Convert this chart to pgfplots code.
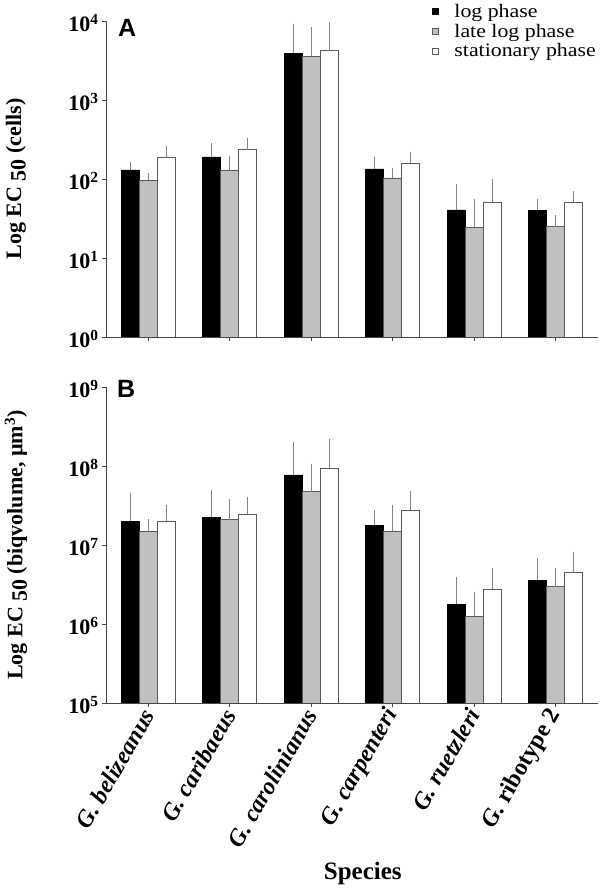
\documentclass[border=0pt]{standalone}
\usepackage{fontspec}
\setmainfont{Liberation Serif}
\newfontfamily\legfont[FakeStretch=1.15]{Liberation Serif}
\newfontfamily\arialb{Liberation Sans}
\usepackage{pgfplots}
\pgfplotsset{compat=1.18}
\definecolor{barg}{RGB}{192,192,192}
\definecolor{barb}{RGB}{90,90,90}
\definecolor{errg}{RGB}{130,130,130}
\definecolor{axg}{RGB}{70,70,70}
\tikzset{
  sblack/.style={fill=black, draw=black, line width=0.8pt},
  sgray/.style={fill=barg, draw=barb, line width=0.8pt},
  swhite/.style={fill=white, draw=barb, line width=0.8pt},
}
\begin{document}
\begin{tikzpicture}[x=1pt,y=1pt]
\path[use as bounding box] (0,0) rectangle (600,890);
% ---------- Panel A ----------
\begin{semilogyaxis}[at={(106pt,553pt)}, anchor=south west,
  scale only axis, width=492pt, height=316pt,
  ybar=0pt, bar width=18pt, log origin=infty,
  xmin=-0.52, xmax=5.52, xtick={0,1,2,3,4,5},
  axis lines=left, axis line style={-, axg, line width=0.9pt},
  tick align=outside, major tick length=4pt,
  tick style={axg, line width=0.9pt},
  yminorticks=false,
  ticklabel style={font=\fontsize{22}{22}\selectfont\bfseries},
  yticklabel style={yshift=-2pt},
  ylabel style={at={(axis description cs:-0.183,0.5)}, anchor=center,
    font=\fontsize{22}{22}\selectfont\bfseries},
  ymin=1, ymax=10000,
  ytick={1,10,100,1000,10000},
  yticklabels={10\textsuperscript{0},10\textsuperscript{1},10\textsuperscript{2},10\textsuperscript{3},10\textsuperscript{4}},
  xticklabels={},
  ylabel={Log EC \raisebox{-0.2em}{50} (cells)},
  legend style={at={(axis description cs:1.0,1.06)}, anchor=north east,
    draw=none, fill=none, font=\legfont\fontsize{19}{19}\selectfont,
    row sep=1pt, inner sep=0pt, cells={anchor=west}},
  legend image code/.code={\draw[#1, line width=0.8pt] (0pt,-3pt) rectangle (6pt,3pt); \path (0pt,0pt) (20pt,0pt);},
]
\addplot[sblack, error bars/.cd, y dir=plus, y explicit, error bar style={errg, line width=0.8pt}, error mark options={errg, line width=0.8pt, mark size=2pt}]
  coordinates {(0,130) +- (0,25) (1,190) +- (0,80) (2,3900) +- (0,4800) (3,134) +- (0,45) (4,40.5) +- (0,40.5) (5,40) +- (0,13)};
\addplot[sgray, error bars/.cd, y dir=plus, y explicit, error bar style={errg, line width=0.8pt}, error mark options={errg, line width=0.8pt, mark size=2pt}]
  coordinates {(0,97) +- (0,15) (1,130) +- (0,55) (2,3600) +- (0,4300) (3,103) +- (0,27) (4,24.6) +- (0,28.4) (5,25) +- (0,8)};
\addplot[swhite, error bars/.cd, y dir=plus, y explicit, error bar style={errg, line width=0.8pt}, error mark options={errg, line width=0.8pt, mark size=2pt}]
  coordinates {(0,185) +- (0,61) (1,234) +- (0,76) (2,4200) +- (0,4900) (3,159) +- (0,49) (4,51) +- (0,43) (5,51) +- (0,15)};
\legend{log phase, late log phase, stationary phase}
\end{semilogyaxis}
\node[font=\arialb\bfseries\fontsize{25}{25}\selectfont, anchor=north west, inner sep=0pt] at (118,871) {A};
% ---------- Panel B ----------
\begin{semilogyaxis}[at={(106pt,187pt)}, anchor=south west,
  scale only axis, width=492pt, height=316pt,
  ybar=0pt, bar width=18pt, log origin=infty,
  xmin=-0.52, xmax=5.52, xtick={0,1,2,3,4,5},
  axis lines=left, axis line style={-, axg, line width=0.9pt},
  tick align=outside, major tick length=4pt,
  tick style={axg, line width=0.9pt},
  yminorticks=false,
  ticklabel style={font=\fontsize{22}{22}\selectfont\bfseries},
  yticklabel style={yshift=-2pt},
  ylabel style={at={(axis description cs:-0.183,0.5)}, anchor=center,
    font=\fontsize{22}{22}\selectfont\bfseries},
  ymin=1e5, ymax=1e9,
  ytick={1e5,1e6,1e7,1e8,1e9},
  yticklabels={10\textsuperscript{5},10\textsuperscript{6},10\textsuperscript{7},10\textsuperscript{8},10\textsuperscript{9}},
  xticklabels={\textbf{\textit{G. belizeanus}},\textbf{\textit{G. caribaeus}},\textbf{\textit{G. carolinianus}},\textbf{\textit{G. carpenteri}},\textbf{\textit{G. ruetzleri}},\textbf{\textit{G.} ribotype 2}},
  xticklabel style={rotate=60, anchor=east, yshift=-2pt, font=\fontsize{24}{24}\selectfont\bfseries},
  ylabel={Log EC \raisebox{-0.2em}{50} (biqvolume, \textmu m\textsuperscript{3})},
  xlabel={Species},
  xlabel style={at={(axis description cs:0.522,-0.538)}, anchor=center,
    font=\fontsize{25}{25}\selectfont\bfseries},
]
\addplot[sblack, error bars/.cd, y dir=plus, y explicit, error bar style={errg, line width=0.8pt}, error mark options={errg, line width=0.8pt, mark size=2pt}]
  coordinates {(0,2.0e7) +- (0,2.3e7) (1,2.25e7) +- (0,2.45e7) (2,7.7e7) +- (0,1.13e8) (3,1.78e7) +- (0,0.82e7) (4,1.78e6) +- (0,1.92e6) (5,3.6e6) +- (0,2.9e6)};
\addplot[sgray, error bars/.cd, y dir=plus, y explicit, error bar style={errg, line width=0.8pt}, error mark options={errg, line width=0.8pt, mark size=2pt}]
  coordinates {(0,1.5e7) +- (0,0.5e7) (1,2.1e7) +- (0,1.5e7) (2,4.7e7) +- (0,5.3e7) (3,1.5e7) +- (0,1.5e7) (4,1.26e6) +- (0,1.14e6) (5,2.95e6) +- (0,1.85e6)};
\addplot[swhite, error bars/.cd, y dir=plus, y explicit, error bar style={errg, line width=0.8pt}, error mark options={errg, line width=0.8pt, mark size=2pt}]
  coordinates {(0,2.0e7) +- (0,1.0e7) (1,2.45e7) +- (0,1.35e7) (2,9.4e7) +- (0,1.16e8) (3,2.75e7) +- (0,1.85e7) (4,2.77e6) +- (0,2.03e6) (5,4.45e6) +- (0,3.25e6)};
\end{semilogyaxis}
\node[font=\arialb\bfseries\fontsize{25}{25}\selectfont, anchor=north west, inner sep=0pt] at (117,510) {B};
\end{tikzpicture}
\end{document}
